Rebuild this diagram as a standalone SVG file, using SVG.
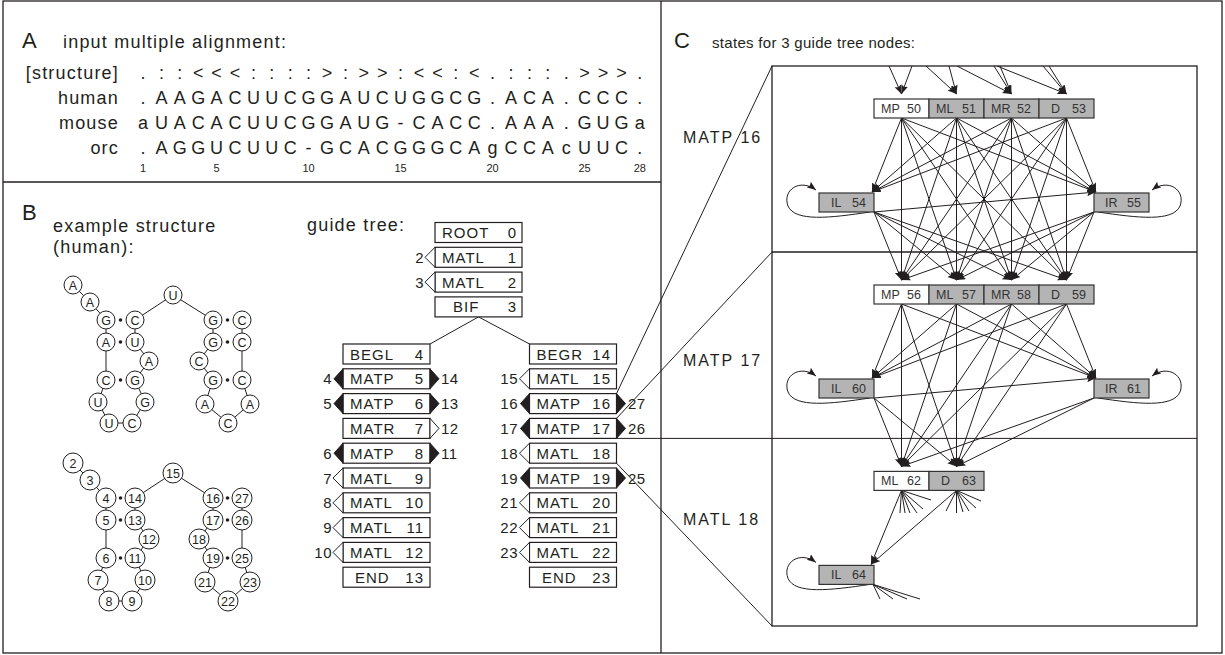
<svg xmlns="http://www.w3.org/2000/svg" width="1225" height="655" viewBox="0 0 1225 655">
<defs>
<style>
text{font-family:"Liberation Sans",Arial,sans-serif;fill:#231f20}
.plbl{font-size:22px}
.ttl{font-size:18px;letter-spacing:1.2px}
.ttlc{font-size:15px;letter-spacing:0.3px}
.aln{font-size:18px;text-anchor:middle}
.rn{font-size:18px;text-anchor:end;letter-spacing:1.2px}
.cn{font-size:11px;text-anchor:middle}
.frame{fill:none;stroke:#231f20;stroke-width:1.3}
.bb{fill:none;stroke:#231f20;stroke-width:1}
.nt{fill:#fff;stroke:#231f20;stroke-width:1}
.ntl{font-size:12.5px;text-anchor:middle}
.bp{fill:#231f20}
.gbox{fill:#fff;stroke:#231f20;stroke-width:1.2}
.gt{font-size:15px;letter-spacing:1px}
.gn{font-size:15px;letter-spacing:1px;text-anchor:end}
.sn{font-size:15px;letter-spacing:0.5px;text-anchor:end}
.ss{font-size:15px;letter-spacing:0.5px}
.to{fill:#fff;stroke:#231f20;stroke-width:1}
.tf{fill:#231f20;stroke:#231f20;stroke-width:1}
.ln{fill:none;stroke:#231f20;stroke-width:1}
.sw{fill:#fff;stroke:#333;stroke-width:1.2}
.sg{fill:#b4b4b4;stroke:#333;stroke-width:1.2}
.stx{font-size:12.5px;fill:#333}
.e{fill:none;stroke:#231f20;stroke-width:1;marker-end:url(#ah)}
.cl{font-size:16px;letter-spacing:2px}
</style>
<marker id="ah" markerUnits="userSpaceOnUse" markerWidth="10" markerHeight="8" refX="9" refY="3.5" orient="auto"><path d="M0,0 L9,3.5 L0,7 L1.5,3.5 z" fill="#231f20"/></marker>
<clipPath id="boxclip"><rect x="772" y="66" width="425" height="560"/></clipPath>
</defs>

<!-- frame and panel dividers -->
<rect class="frame" x="3" y="1" width="1219" height="652"/>
<line class="frame" x1="661" y1="1" x2="661" y2="653"/>
<line class="frame" x1="3" y1="182" x2="661" y2="182"/>

<!-- A: alignment -->
<g id="panel-a">
<text class="plbl" x="22" y="48">A</text>
<text class="ttl" x="63" y="48">input multiple alignment:</text>
<text class="rn" x="119" y="79">[structure]</text>
<text class="rn" x="119" y="104">human</text>
<text class="rn" x="119" y="129">mouse</text>
<text class="rn" x="119" y="154">orc</text>
<text class="aln" y="79" x="143 161.4 179.8 198.2 216.6 235 253.4 271.8 290.2 308.6 327 345.4 363.8 382.2 400.6 419 437.4 455.8 474.2 492.6 511 529.4 547.8 566.2 584.6 603 621.4 639.8">.::&lt;&lt;&lt;::::&gt;:&gt;&gt;:&lt;&lt;:&lt;.:::.&gt;&gt;&gt;.</text>
<text class="aln" y="104" x="143 161.4 179.8 198.2 216.6 235 253.4 271.8 290.2 308.6 327 345.4 363.8 382.2 400.6 419 437.4 455.8 474.2 492.6 511 529.4 547.8 566.2 584.6 603 621.4 639.8">.AAGACUUCGGAUCUGGCG.ACA.CCC.</text>
<text class="aln" y="129" x="143 161.4 179.8 198.2 216.6 235 253.4 271.8 290.2 308.6 327 345.4 363.8 382.2 400.6 419 437.4 455.8 474.2 492.6 511 529.4 547.8 566.2 584.6 603 621.4 639.8">aUACACUUCGGAUG-CACC.AAA.GUGa</text>
<text class="aln" y="154" x="143 161.4 179.8 198.2 216.6 235 253.4 271.8 290.2 308.6 327 345.4 363.8 382.2 400.6 419 437.4 455.8 474.2 492.6 511 529.4 547.8 566.2 584.6 603 621.4 639.8">.AGGUCUUC-GCACGGGCAgCCAcUUC.</text>
<text class="cn" x="143" y="172">1</text>
<text class="cn" x="216.6" y="172">5</text>
<text class="cn" x="308.6" y="172">10</text>
<text class="cn" x="400.6" y="172">15</text>
<text class="cn" x="492.6" y="172">20</text>
<text class="cn" x="584.6" y="172">25</text>
<text class="cn" x="639.8" y="172">28</text>
</g>

<!-- B: structure drawings -->
<g id="panel-b-labels">
<text class="plbl" x="22" y="220">B</text>
<text class="ttl" x="53" y="232">example structure</text>
<text class="ttl" x="53" y="253">(human):</text>
<text class="ttl" x="307" y="231">guide tree:</text>
</g>

<g id="rna-human">
<polyline class="bb" points="73,285 90,302 106,320 106,342 106,380 98,402 109,423 132,423 145,402 135,380 149,361 135,342 135,320 173,295 213,320 213,342 199,361 213,380 205,404 228,423 250,404 242,380 242,342 242,320"/>
<circle class="bp" cx="120.5" cy="320" r="1.8"/><circle class="bp" cx="120.5" cy="342" r="1.8"/><circle class="bp" cx="120.5" cy="380" r="1.8"/>
<circle class="bp" cx="227.5" cy="320" r="1.8"/><circle class="bp" cx="227.5" cy="342" r="1.8"/><circle class="bp" cx="227.5" cy="380" r="1.8"/>
<circle class="nt" cx="73" cy="285" r="9"/><text class="ntl" x="73" y="289.5">A</text>
<circle class="nt" cx="90" cy="302" r="9"/><text class="ntl" x="90" y="306.5">A</text>
<circle class="nt" cx="106" cy="320" r="9"/><text class="ntl" x="106" y="324.5">G</text>
<circle class="nt" cx="135" cy="320" r="9"/><text class="ntl" x="135" y="324.5">C</text>
<circle class="nt" cx="173" cy="295" r="9"/><text class="ntl" x="173" y="299.5">U</text>
<circle class="nt" cx="213" cy="320" r="9"/><text class="ntl" x="213" y="324.5">G</text>
<circle class="nt" cx="242" cy="320" r="9"/><text class="ntl" x="242" y="324.5">C</text>
<circle class="nt" cx="106" cy="342" r="9"/><text class="ntl" x="106" y="346.5">A</text>
<circle class="nt" cx="135" cy="342" r="9"/><text class="ntl" x="135" y="346.5">U</text>
<circle class="nt" cx="149" cy="361" r="9"/><text class="ntl" x="149" y="365.5">A</text>
<circle class="nt" cx="213" cy="342" r="9"/><text class="ntl" x="213" y="346.5">G</text>
<circle class="nt" cx="242" cy="342" r="9"/><text class="ntl" x="242" y="346.5">C</text>
<circle class="nt" cx="199" cy="361" r="9"/><text class="ntl" x="199" y="365.5">C</text>
<circle class="nt" cx="106" cy="380" r="9"/><text class="ntl" x="106" y="384.5">C</text>
<circle class="nt" cx="135" cy="380" r="9"/><text class="ntl" x="135" y="384.5">G</text>
<circle class="nt" cx="213" cy="380" r="9"/><text class="ntl" x="213" y="384.5">G</text>
<circle class="nt" cx="242" cy="380" r="9"/><text class="ntl" x="242" y="384.5">C</text>
<circle class="nt" cx="98" cy="402" r="9"/><text class="ntl" x="98" y="406.5">U</text>
<circle class="nt" cx="145" cy="402" r="9"/><text class="ntl" x="145" y="406.5">G</text>
<circle class="nt" cx="205" cy="404" r="9"/><text class="ntl" x="205" y="408.5">A</text>
<circle class="nt" cx="250" cy="404" r="9"/><text class="ntl" x="250" y="408.5">A</text>
<circle class="nt" cx="109" cy="423" r="9"/><text class="ntl" x="109" y="427.5">U</text>
<circle class="nt" cx="132" cy="423" r="9"/><text class="ntl" x="132" y="427.5">C</text>
<circle class="nt" cx="228" cy="423" r="9"/><text class="ntl" x="228" y="427.5">C</text>
</g>

<g id="rna-index">
<polyline class="bb" points="73,463 90,480 106,498 106,520 106,558 98,580 109,601 132,601 145,580 135,558 149,539 135,520 135,498 173,473 213,498 213,520 199,539 213,558 205,582 228,601 250,582 242,558 242,520 242,498"/>
<circle class="bp" cx="120.5" cy="498" r="1.8"/><circle class="bp" cx="120.5" cy="520" r="1.8"/><circle class="bp" cx="120.5" cy="558" r="1.8"/>
<circle class="bp" cx="227.5" cy="498" r="1.8"/><circle class="bp" cx="227.5" cy="520" r="1.8"/><circle class="bp" cx="227.5" cy="558" r="1.8"/>
<circle class="nt" cx="73" cy="463" r="10"/><text class="ntl" x="73" y="467.5">2</text>
<circle class="nt" cx="90" cy="480" r="10"/><text class="ntl" x="90" y="484.5">3</text>
<circle class="nt" cx="106" cy="498" r="10"/><text class="ntl" x="106" y="502.5">4</text>
<circle class="nt" cx="135" cy="498" r="10"/><text class="ntl" x="135" y="502.5">14</text>
<circle class="nt" cx="173" cy="473" r="10"/><text class="ntl" x="173" y="477.5">15</text>
<circle class="nt" cx="213" cy="498" r="10"/><text class="ntl" x="213" y="502.5">16</text>
<circle class="nt" cx="242" cy="498" r="10"/><text class="ntl" x="242" y="502.5">27</text>
<circle class="nt" cx="106" cy="520" r="10"/><text class="ntl" x="106" y="524.5">5</text>
<circle class="nt" cx="135" cy="520" r="10"/><text class="ntl" x="135" y="524.5">13</text>
<circle class="nt" cx="149" cy="539" r="10"/><text class="ntl" x="149" y="543.5">12</text>
<circle class="nt" cx="213" cy="520" r="10"/><text class="ntl" x="213" y="524.5">17</text>
<circle class="nt" cx="242" cy="520" r="10"/><text class="ntl" x="242" y="524.5">26</text>
<circle class="nt" cx="199" cy="539" r="10"/><text class="ntl" x="199" y="543.5">18</text>
<circle class="nt" cx="106" cy="558" r="10"/><text class="ntl" x="106" y="562.5">6</text>
<circle class="nt" cx="135" cy="558" r="10"/><text class="ntl" x="135" y="562.5">11</text>
<circle class="nt" cx="213" cy="558" r="10"/><text class="ntl" x="213" y="562.5">19</text>
<circle class="nt" cx="242" cy="558" r="10"/><text class="ntl" x="242" y="562.5">25</text>
<circle class="nt" cx="98" cy="580" r="10"/><text class="ntl" x="98" y="584.5">7</text>
<circle class="nt" cx="145" cy="580" r="10"/><text class="ntl" x="145" y="584.5">10</text>
<circle class="nt" cx="205" cy="582" r="10"/><text class="ntl" x="205" y="586.5">21</text>
<circle class="nt" cx="250" cy="582" r="10"/><text class="ntl" x="250" y="586.5">23</text>
<circle class="nt" cx="109" cy="601" r="10"/><text class="ntl" x="109" y="605.5">8</text>
<circle class="nt" cx="132" cy="601" r="10"/><text class="ntl" x="132" y="605.5">9</text>
<circle class="nt" cx="228" cy="601" r="10"/><text class="ntl" x="228" y="605.5">22</text>
</g>

<!-- connectors: guide tree branches, zoom lines, state transitions -->
<g id="connectors">
<path class="ln" d="M478.5,316.9 L430,344 M478.5,316.9 L529.5,344"/>
<path class="ln" d="M616.5,393.6 L772,66 M616.5,418.4 L772,252 M616.5,438.4 L1197,438.4 M616.5,463.2 L772,626"/>
<g clip-path="url(#boxclip)">
<path class="e" d="M889,66 L901.5,94"/><path class="e" d="M912,66 L901.5,94"/>
<path class="e" d="M926,66 L956.5,94"/><path class="e" d="M949,66 L956.5,94"/>
<path class="e" d="M957,66 L1011.5,94"/><path class="e" d="M994,66 L1011.5,94"/><path class="e" d="M1000,66 L1011.5,94"/>
<path class="e" d="M997,66 L1066.5,94"/><path class="e" d="M1043,66 L1066.5,94"/><path class="e" d="M1049,66 L1066.5,94"/>
</g>
<!-- MATP 16 to MATP 17 -->
<path class="e" d="M901.5,118 L872,192"/><path class="e" d="M901.5,118 L1096,192"/><path class="e" d="M901.5,118 L901.5,280"/><path class="e" d="M901.5,118 L956.5,280"/><path class="e" d="M901.5,118 L1011.5,280"/><path class="e" d="M901.5,118 L1066.5,280"/>
<path class="e" d="M956.5,118 L872,192"/><path class="e" d="M956.5,118 L1096,192"/><path class="e" d="M956.5,118 L901.5,280"/><path class="e" d="M956.5,118 L956.5,280"/><path class="e" d="M956.5,118 L1011.5,280"/><path class="e" d="M956.5,118 L1066.5,280"/>
<path class="e" d="M1011.5,118 L872,192"/><path class="e" d="M1011.5,118 L1096,192"/><path class="e" d="M1011.5,118 L901.5,280"/><path class="e" d="M1011.5,118 L956.5,280"/><path class="e" d="M1011.5,118 L1011.5,280"/><path class="e" d="M1011.5,118 L1066.5,280"/>
<path class="e" d="M1066.5,118 L872,192"/><path class="e" d="M1066.5,118 L1096,192"/><path class="e" d="M1066.5,118 L901.5,280"/><path class="e" d="M1066.5,118 L956.5,280"/><path class="e" d="M1066.5,118 L1011.5,280"/><path class="e" d="M1066.5,118 L1066.5,280"/>
<path class="e" d="M874,212 L1096,192"/><path class="e" d="M874,212 L901.5,280"/><path class="e" d="M874,212 L956.5,280"/><path class="e" d="M874,212 L1011.5,280"/><path class="e" d="M874,212 L1066.5,280"/>
<path class="e" d="M1094,212 L901.5,280"/><path class="e" d="M1094,212 L956.5,280"/><path class="e" d="M1094,212 L1011.5,280"/><path class="e" d="M1094,212 L1066.5,280"/>
<path class="e" d="M870,212 C830,218 795,222 788,206 C782,190 800,178 816,190"/>
<path class="e" d="M1098,212 C1138,218 1173,222 1180,206 C1186,190 1168,178 1152,190"/>
<!-- MATP 17 to MATL 18 -->
<path class="e" d="M901.5,304 L872,378"/><path class="e" d="M901.5,304 L1096,378"/><path class="e" d="M901.5,304 L901.5,466.4"/><path class="e" d="M901.5,304 L956.5,466.4"/>
<path class="e" d="M956.5,304 L872,378"/><path class="e" d="M956.5,304 L1096,378"/><path class="e" d="M956.5,304 L901.5,466.4"/><path class="e" d="M956.5,304 L956.5,466.4"/>
<path class="e" d="M1011.5,304 L872,378"/><path class="e" d="M1011.5,304 L1096,378"/><path class="e" d="M1011.5,304 L901.5,466.4"/><path class="e" d="M1011.5,304 L956.5,466.4"/>
<path class="e" d="M1066.5,304 L872,378"/><path class="e" d="M1066.5,304 L1096,378"/><path class="e" d="M1066.5,304 L901.5,466.4"/><path class="e" d="M1066.5,304 L956.5,466.4"/>
<path class="e" d="M874,398 L1096,378"/><path class="e" d="M874,398 L901.5,466.4"/><path class="e" d="M874,398 L956.5,466.4"/>
<path class="e" d="M1094,398 L901.5,466.4"/><path class="e" d="M1094,398 L956.5,466.4"/>
<path class="e" d="M870,398 C830,404 795,408 788,392 C782,376 800,364 816,376"/>
<path class="e" d="M1098,398 C1138,404 1173,408 1180,392 C1186,376 1168,364 1152,376"/>
<!-- MATL 18 -->
<path class="e" d="M901.5,490.4 L871,564.4"/><path class="e" d="M956.5,490.4 L871,564.4"/>
<path class="e" d="M870,584.4 C830,590.4 795,594.4 788,578.4 C782,562.4 800,550.4 816,562.4"/>
<path class="ln" d="M901.5,490.4 L900,513 M901.5,490.4 L905,513 M901.5,490.4 L910,513 M901.5,490.4 L917,513 M901.5,490.4 L923,509 M901.5,490.4 L931,500"/>
<path class="ln" d="M956.5,490.4 L946,511 M956.5,490.4 L956.5,513 M956.5,490.4 L963,512 M956.5,490.4 L969,511 M956.5,490.4 L976,508 M956.5,490.4 L981,501"/>
<path class="ln" d="M873,584.4 L880,599 M873,584.4 L893,599 M873,584.4 L907,599 M873,584.4 L920,599"/>
</g>

<!-- guide tree nodes -->
<g id="gt-root0"><rect class="gbox" x="435" y="222.5" width="87" height="20"/><text class="gt" x="442" y="238">ROOT</text><text class="gn" x="517" y="238">0</text></g>
<g id="gt-matl1"><rect class="gbox" x="435" y="247.3" width="87" height="20"/><polygon class="to" points="435,247.3 425,257.3 435,267.3"/><text class="gt" x="442" y="262.8">MATL</text><text class="gn" x="517" y="262.8">1</text><text class="sn" x="424" y="262.8">2</text></g>
<g id="gt-matl2"><rect class="gbox" x="435" y="272.1" width="87" height="20"/><polygon class="to" points="435,272.1 425,282.1 435,292.1"/><text class="gt" x="442" y="287.6">MATL</text><text class="gn" x="517" y="287.6">2</text><text class="sn" x="424" y="287.6">3</text></g>
<g id="gt-bif3"><rect class="gbox" x="435" y="296.9" width="87" height="20"/><text class="gt" x="453" y="312.4">BIF</text><text class="gn" x="517" y="312.4">3</text></g>

<g id="gt-begl4"><rect class="gbox" x="343" y="344" width="87" height="20"/><text class="gt" x="350" y="359.5">BEGL</text><text class="gn" x="424" y="359.5">4</text></g>
<g id="gt-matp5"><rect class="gbox" x="343" y="368.8" width="87" height="20"/><polygon class="tf" points="343,368.8 334,378.8 343,388.8"/><polygon class="tf" points="430,368.8 439,378.8 430,388.8"/><text class="gt" x="350" y="384.3">MATP</text><text class="gn" x="424" y="384.3">5</text><text class="sn" x="332" y="384.3">4</text><text class="ss" x="441" y="384.3">14</text></g>
<g id="gt-matp6"><rect class="gbox" x="343" y="393.6" width="87" height="20"/><polygon class="tf" points="343,393.6 334,403.6 343,413.6"/><polygon class="tf" points="430,393.6 439,403.6 430,413.6"/><text class="gt" x="350" y="409.1">MATP</text><text class="gn" x="424" y="409.1">6</text><text class="sn" x="332" y="409.1">5</text><text class="ss" x="441" y="409.1">13</text></g>
<g id="gt-matr7"><rect class="gbox" x="343" y="418.4" width="87" height="20"/><polygon class="to" points="430,418.4 439,428.4 430,438.4"/><text class="gt" x="350" y="433.9">MATR</text><text class="gn" x="424" y="433.9">7</text><text class="ss" x="441" y="433.9">12</text></g>
<g id="gt-matp8"><rect class="gbox" x="343" y="443.2" width="87" height="20"/><polygon class="tf" points="343,443.2 334,453.2 343,463.2"/><polygon class="tf" points="430,443.2 439,453.2 430,463.2"/><text class="gt" x="350" y="458.7">MATP</text><text class="gn" x="424" y="458.7">8</text><text class="sn" x="332" y="458.7">6</text><text class="ss" x="441" y="458.7">11</text></g>
<g id="gt-matl9"><rect class="gbox" x="343" y="468" width="87" height="20"/><polygon class="to" points="343,468 333,478 343,488"/><text class="gt" x="350" y="483.5">MATL</text><text class="gn" x="424" y="483.5">9</text><text class="sn" x="332" y="483.5">7</text></g>
<g id="gt-matl10"><rect class="gbox" x="343" y="492.8" width="87" height="20"/><polygon class="to" points="343,492.8 333,502.8 343,512.8"/><text class="gt" x="350" y="508.3">MATL</text><text class="gn" x="424" y="508.3">10</text><text class="sn" x="332" y="508.3">8</text></g>
<g id="gt-matl11"><rect class="gbox" x="343" y="517.6" width="87" height="20"/><polygon class="to" points="343,517.6 333,527.6 343,537.6"/><text class="gt" x="350" y="533.1">MATL</text><text class="gn" x="424" y="533.1">11</text><text class="sn" x="332" y="533.1">9</text></g>
<g id="gt-matl12"><rect class="gbox" x="343" y="542.4" width="87" height="20"/><polygon class="to" points="343,542.4 333,552.4 343,562.4"/><text class="gt" x="350" y="557.9">MATL</text><text class="gn" x="424" y="557.9">12</text><text class="sn" x="332" y="557.9">10</text></g>
<g id="gt-end13"><rect class="gbox" x="343" y="567.2" width="87" height="20"/><text class="gt" x="355" y="582.7">END</text><text class="gn" x="424" y="582.7">13</text></g>

<g id="gt-begr14"><rect class="gbox" x="529.5" y="344" width="87" height="20"/><text class="gt" x="536.5" y="359.5">BEGR</text><text class="gn" x="611" y="359.5">14</text></g>
<g id="gt-matl15"><rect class="gbox" x="529.5" y="368.8" width="87" height="20"/><polygon class="to" points="529.5,368.8 519.5,378.8 529.5,388.8"/><text class="gt" x="536.5" y="384.3">MATL</text><text class="gn" x="611" y="384.3">15</text><text class="sn" x="518" y="384.3">15</text></g>
<g id="gt-matp16"><rect class="gbox" x="529.5" y="393.6" width="87" height="20"/><polygon class="tf" points="529.5,393.6 520.5,403.6 529.5,413.6"/><polygon class="tf" points="616.5,393.6 625.5,403.6 616.5,413.6"/><text class="gt" x="536.5" y="409.1">MATP</text><text class="gn" x="611" y="409.1">16</text><text class="sn" x="518" y="409.1">16</text><text class="ss" x="628" y="409.1">27</text></g>
<g id="gt-matp17"><rect class="gbox" x="529.5" y="418.4" width="87" height="20"/><polygon class="tf" points="529.5,418.4 520.5,428.4 529.5,438.4"/><polygon class="tf" points="616.5,418.4 625.5,428.4 616.5,438.4"/><text class="gt" x="536.5" y="433.9">MATP</text><text class="gn" x="611" y="433.9">17</text><text class="sn" x="518" y="433.9">17</text><text class="ss" x="628" y="433.9">26</text></g>
<g id="gt-matl18"><rect class="gbox" x="529.5" y="443.2" width="87" height="20"/><polygon class="to" points="529.5,443.2 519.5,453.2 529.5,463.2"/><text class="gt" x="536.5" y="458.7">MATL</text><text class="gn" x="611" y="458.7">18</text><text class="sn" x="518" y="458.7">18</text></g>
<g id="gt-matp19"><rect class="gbox" x="529.5" y="468" width="87" height="20"/><polygon class="tf" points="529.5,468 520.5,478 529.5,488"/><polygon class="tf" points="616.5,468 625.5,478 616.5,488"/><text class="gt" x="536.5" y="483.5">MATP</text><text class="gn" x="611" y="483.5">19</text><text class="sn" x="518" y="483.5">19</text><text class="ss" x="628" y="483.5">25</text></g>
<g id="gt-matl20"><rect class="gbox" x="529.5" y="492.8" width="87" height="20"/><polygon class="to" points="529.5,492.8 519.5,502.8 529.5,512.8"/><text class="gt" x="536.5" y="508.3">MATL</text><text class="gn" x="611" y="508.3">20</text><text class="sn" x="518" y="508.3">21</text></g>
<g id="gt-matl21"><rect class="gbox" x="529.5" y="517.6" width="87" height="20"/><polygon class="to" points="529.5,517.6 519.5,527.6 529.5,537.6"/><text class="gt" x="536.5" y="533.1">MATL</text><text class="gn" x="611" y="533.1">21</text><text class="sn" x="518" y="533.1">22</text></g>
<g id="gt-matl22"><rect class="gbox" x="529.5" y="542.4" width="87" height="20"/><polygon class="to" points="529.5,542.4 519.5,552.4 529.5,562.4"/><text class="gt" x="536.5" y="557.9">MATL</text><text class="gn" x="611" y="557.9">22</text><text class="sn" x="518" y="557.9">23</text></g>
<g id="gt-end23"><rect class="gbox" x="529.5" y="567.2" width="87" height="20"/><text class="gt" x="542" y="582.7">END</text><text class="gn" x="611" y="582.7">23</text></g>

<!-- C: model states -->
<g id="panel-c-labels">
<text class="plbl" x="674" y="48">C</text>
<text class="ttlc" x="712" y="48">states for 3 guide tree nodes:</text>
<rect class="frame" x="772" y="66" width="425" height="560"/>
<line class="frame" x1="772" y1="252" x2="1197" y2="252"/>
<text class="cl" x="683" y="143">MATP 16</text>
<text class="cl" x="683" y="366">MATP 17</text>
<text class="cl" x="683" y="525">MATL 18</text>
</g>

<g id="st-mp50"><rect class="sw" x="874" y="99" width="55" height="19"/><text class="stx" x="881" y="113">MP</text><text class="stx" x="907" y="113">50</text></g>
<g id="st-ml51"><rect class="sg" x="929" y="99" width="55" height="19"/><text class="stx" x="936" y="113">ML</text><text class="stx" x="962" y="113">51</text></g>
<g id="st-mr52"><rect class="sg" x="984" y="99" width="55" height="19"/><text class="stx" x="991" y="113">MR</text><text class="stx" x="1017" y="113">52</text></g>
<g id="st-d53"><rect class="sg" x="1039" y="99" width="55" height="19"/><text class="stx" x="1051" y="113">D</text><text class="stx" x="1072" y="113">53</text></g>
<g id="st-il54"><rect class="sg" x="819" y="193" width="55" height="19"/><text class="stx" x="831" y="207">IL</text><text class="stx" x="852" y="207">54</text></g>
<g id="st-ir55"><rect class="sg" x="1094" y="193" width="55" height="19"/><text class="stx" x="1105" y="207">IR</text><text class="stx" x="1127" y="207">55</text></g>

<g id="st-mp56"><rect class="sw" x="874" y="285" width="55" height="19"/><text class="stx" x="881" y="299">MP</text><text class="stx" x="907" y="299">56</text></g>
<g id="st-ml57"><rect class="sg" x="929" y="285" width="55" height="19"/><text class="stx" x="936" y="299">ML</text><text class="stx" x="962" y="299">57</text></g>
<g id="st-mr58"><rect class="sg" x="984" y="285" width="55" height="19"/><text class="stx" x="991" y="299">MR</text><text class="stx" x="1017" y="299">58</text></g>
<g id="st-d59"><rect class="sg" x="1039" y="285" width="55" height="19"/><text class="stx" x="1051" y="299">D</text><text class="stx" x="1072" y="299">59</text></g>
<g id="st-il60"><rect class="sg" x="819" y="379" width="55" height="19"/><text class="stx" x="831" y="393">IL</text><text class="stx" x="852" y="393">60</text></g>
<g id="st-ir61"><rect class="sg" x="1094" y="379" width="55" height="19"/><text class="stx" x="1105" y="393">IR</text><text class="stx" x="1127" y="393">61</text></g>

<g id="st-ml62"><rect class="sw" x="874" y="471.4" width="55" height="19"/><text class="stx" x="881" y="485.4">ML</text><text class="stx" x="907" y="485.4">62</text></g>
<g id="st-d63"><rect class="sg" x="929" y="471.4" width="55" height="19"/><text class="stx" x="941" y="485.4">D</text><text class="stx" x="962" y="485.4">63</text></g>
<g id="st-il64"><rect class="sg" x="819" y="565.4" width="55" height="19"/><text class="stx" x="831" y="579.4">IL</text><text class="stx" x="852" y="579.4">64</text></g>
</svg>
